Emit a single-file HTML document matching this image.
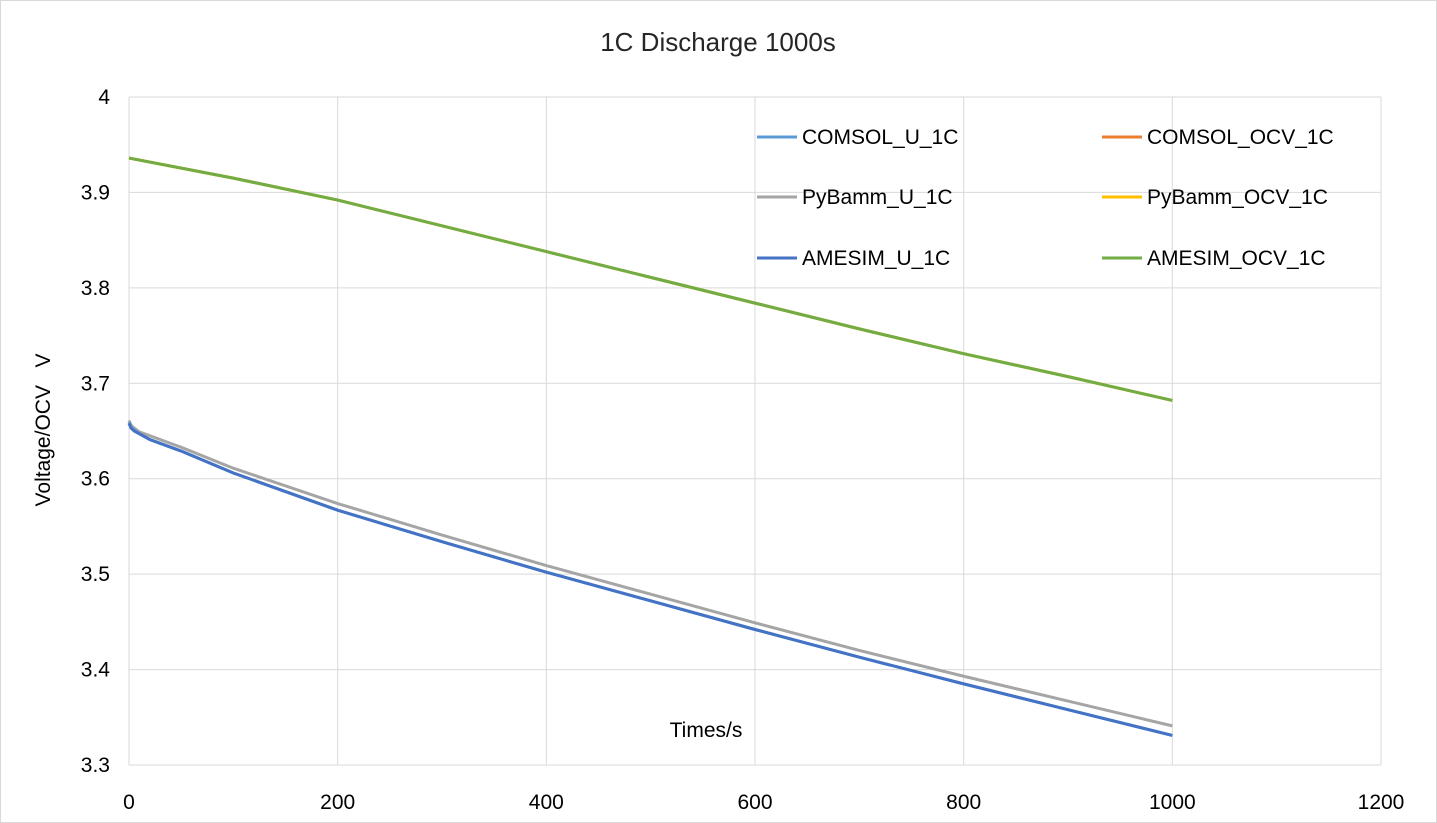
<!DOCTYPE html>
<html><head><meta charset="utf-8"><style>
body{margin:0;background:#fff}
svg{display:block;font-family:"Liberation Sans",Calibri,sans-serif}
</style></head><body>
<svg id="c" width="1437" height="823">
<rect x="0.5" y="0.5" width="1436" height="822" fill="#fff" stroke="#d9d9d9"/>
<text x="718" y="51" font-size="26" text-anchor="middle" fill="#262626">1C Discharge 1000s</text>
<g id="grid"></g><g id="ticks"></g><g id="series"></g>
<text transform="translate(50,430) rotate(-90)" font-size="21" text-anchor="middle" fill="#000" xml:space="preserve" style="white-space:pre">Voltage/OCV   V</text>
<text x="706" y="737" font-size="21" text-anchor="middle" fill="#000">Times/s</text>
<g id="legend"></g>
</svg>
<script>
const xTicks=[0,200,400,600,800,1000,1200];
const yTicks=[3.3,3.4,3.5,3.6,3.7,3.8,3.9,4];
const tU=[0,2,5,10,20,50,100,200,300,400,500,600,700,800,900,1000];
const amesimU=[3.658,3.653,3.650,3.647,3.641,3.629,3.606,3.567,3.534,3.502,3.472,3.442,3.413,3.385,3.358,3.331];
const comsolU=[3.659,3.654,3.651,3.647,3.641,3.629,3.606,3.567,3.534,3.502,3.472,3.442,3.413,3.385,3.358,3.331];
const pybammU=[3.661,3.656,3.653,3.649,3.645,3.633,3.611,3.574,3.541,3.509,3.479,3.449,3.420,3.393,3.367,3.341];
const tO=[0,100,200,300,400,500,600,700,800,900,1000];
const ocv=[3.936,3.915,3.892,3.865,3.838,3.811,3.784,3.757,3.731,3.707,3.682];
const X=v=>129+v*(1381-129)/1200;
const Y=v=>765-(v-3.3)*(765-97)/0.7;
const ns="http://www.w3.org/2000/svg";
function mk(t,a,p){const e=document.createElementNS(ns,t);for(const k in a)e.setAttribute(k,a[k]);p.appendChild(e);return e;}
const g=document.getElementById('grid'),tk=document.getElementById('ticks');
xTicks.forEach(v=>{
 if(v>0){const l=mk('line',{x1:X(v),x2:X(v),y1:97,y2:765,stroke:'#d9d9d9','stroke-width':1},g);
 
 }
 const t=mk('text',{x:X(v),y:809,'font-size':21,'text-anchor':'middle',fill:'#000'},tk);t.textContent=v;
 
 
});
yTicks.forEach(v=>{
 if(v>3.3){const l=mk('line',{x1:129,x2:1381,y1:Y(v),y2:Y(v),stroke:'#d9d9d9','stroke-width':1},g);
 
 }
 const t=mk('text',{x:110,y:Y(v)+7,'font-size':21,'text-anchor':'end',fill:'#000'},tk);t.textContent=v;
 
 
});
const ax=mk('line',{x1:129,x2:1381,y1:765,y2:765,stroke:'#d9d9d9'},g);


const ay=mk('line',{x1:129,x2:129,y1:97,y2:765,stroke:'#d9d9d9'},g);


const S=document.getElementById('series');
function line(xs,ys,c,name){const p=mk('polyline',{points:xs.map((x,i)=>X(x)+','+Y(ys[i])).join(' '),fill:'none',stroke:c,'stroke-width':3,'stroke-linejoin':'round'},S);
 
 }
line(tU,pybammU,'#a5a5a5','pybamm-u-line');
line(tU,comsolU,'#5b9bd5','comsol-u-line');
line(tU,amesimU,'#4472c4','amesim-u-line');
line(tO,ocv,'#ed7d31','comsol-ocv-line');
line(tO,ocv,'#ffc000','pybamm-ocv-line');
line(tO,ocv,'#70ad47','amesim-ocv-line');
const L=document.getElementById('legend');
const leg=[['COMSOL_U_1C','#5b9bd5',757,137],['COMSOL_OCV_1C','#ed7d31',1102,137],['PyBamm_U_1C','#a5a5a5',757,197],['PyBamm_OCV_1C','#ffc000',1102,197],['AMESIM_U_1C','#4472c4',757,258],['AMESIM_OCV_1C','#70ad47',1102,258]];
leg.forEach(([n,c,x,y])=>{
 const gg=mk('g',{},L);
 
 
 mk('line',{x1:x,x2:x+40,y1:y,y2:y,stroke:c,'stroke-width':3},gg);
 const t=mk('text',{x:x+45,y:y+7,'font-size':21,fill:'#000'},gg);t.textContent=n;
});
</script>
</body></html>
